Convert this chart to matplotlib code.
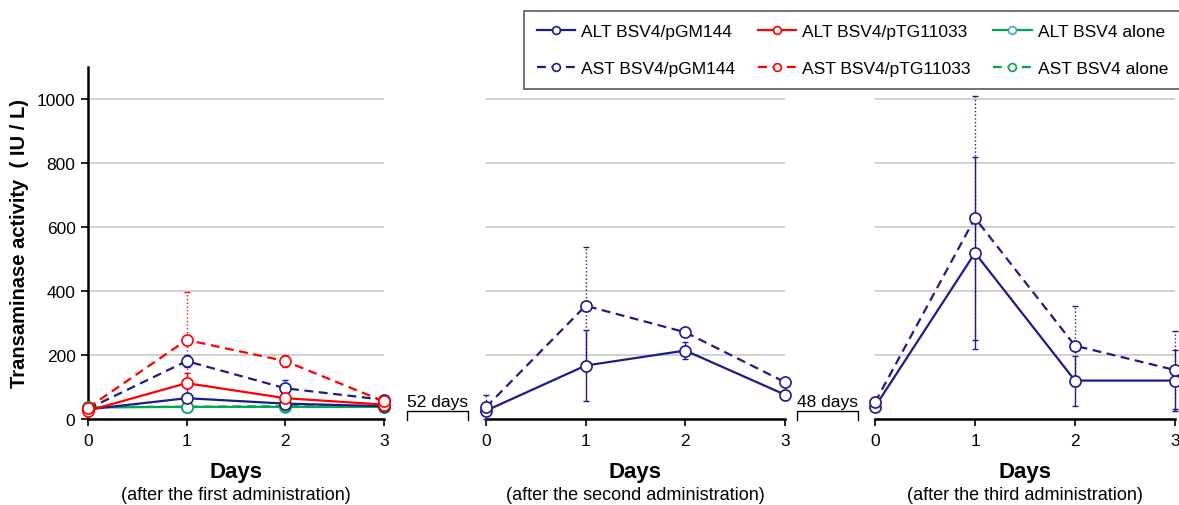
import matplotlib
matplotlib.use("Agg")
import matplotlib.pyplot as plt
from matplotlib.lines import Line2D

plt.rcParams['font.family'] = ['Liberation Sans', 'DejaVu Sans']

days = [0, 1, 2, 3]

# Panel 1 (after first administration)
p1_alt_pgm = [30, 65, 48, 40]
p1_alt_pgm_err = [3, 10, 5, 5]
p1_ast_pgm = [32, 181, 96, 60]
p1_ast_pgm_err = [5, 20, 25, 8]
p1_alt_ptg = [26, 112, 65, 45]
p1_alt_ptg_err = [5, 33, 8, 5]
p1_ast_ptg = [35, 247, 181, 55]
p1_ast_ptg_err = [5, 150, 18, 8]
p1_alt_alone = [36, 38, 38, 38]
p1_alt_alone_err = [3, 3, 3, 3]
p1_ast_alone = [38, 38, 40, 38]
p1_ast_alone_err = [3, 3, 3, 3]

# Panel 2 (after second administration)
p2_alt_pgm = [26, 167, 214, 76]
p2_alt_pgm_err = [5, 110, 28, 5]
p2_ast_pgm = [37, 354, 271, 115]
p2_ast_pgm_err = [38, 183, 10, 8]

# Panel 3 (after third administration)
p3_alt_pgm = [38, 519, 120, 120]
p3_alt_pgm_err = [5, 300, 78, 95]
p3_ast_pgm = [52, 628, 229, 153]
p3_ast_pgm_err = [5, 380, 125, 123]

yticks = [0, 200, 400, 600, 800, 1000]
subtitles = ["(after the first administration)",
             "(after the second administration)",
             "(after the third administration)"]
gaps = ["52 days", "48 days"]

NAVY = '#1c1c8a'
RED = '#ff0000'
GREEN = '#00a651'
TEAL = '#4aa3c0'

W, H = 1179, 506
fig = plt.figure(figsize=(W / 100, H / 100), dpi=100)

def ax_rect(x0, x1, ytop=68, ybot=420):
    return [x0 / W, (H - ybot) / H, (x1 - x0) / W, (ybot - ytop) / H]

axes = [fig.add_axes(ax_rect(88, 384)),
        fig.add_axes(ax_rect(486, 785)),
        fig.add_axes(ax_rect(875, 1175))]

def series(ax, y, err, color, dashed, mec=None, label=None):
    ls = '--' if dashed else '-'
    eb = ax.errorbar(days, y, yerr=err, fmt='none', ecolor=color, elinewidth=1.0,
                     capsize=2.5, capthick=1.0, zorder=3, clip_on=False)
    if dashed:
        for lc in eb[2]:
            lc.set_linestyle(':')
    for c in eb[1]:
        c.set_clip_on(False)
    for lc in eb[2]:
        lc.set_clip_on(False)
    ln, = ax.plot(days, y, linestyle=ls, color=color, lw=1.6, marker='o',
                  markersize=8, markerfacecolor='white',
                  markeredgecolor=mec or color, markeredgewidth=1.2,
                  zorder=4, clip_on=False, label=label)
    if dashed:
        ln.set_dashes((4, 2.5))
    return ln

h = {}
ax = axes[0]
h['a'] = series(ax, p1_alt_alone, p1_alt_alone_err, GREEN, False, TEAL, 'ALT BSV4 alone')
h['b'] = series(ax, p1_ast_alone, p1_ast_alone_err, GREEN, True, None, 'AST BSV4 alone')
h['c'] = series(ax, p1_alt_pgm, p1_alt_pgm_err, NAVY, False, None, 'ALT BSV4/pGM144')
h['d'] = series(ax, p1_ast_pgm, p1_ast_pgm_err, NAVY, True, None, 'AST BSV4/pGM144')
h['e'] = series(ax, p1_alt_ptg, p1_alt_ptg_err, RED, False, None, 'ALT BSV4/pTG11033')
h['f'] = series(ax, p1_ast_ptg, p1_ast_ptg_err, RED, True, None, 'AST BSV4/pTG11033')

series(axes[1], p2_alt_pgm, p2_alt_pgm_err, NAVY, False)
series(axes[1], p2_ast_pgm, p2_ast_pgm_err, NAVY, True)
series(axes[2], p3_alt_pgm, p3_alt_pgm_err, NAVY, False)
series(axes[2], p3_ast_pgm, p3_ast_pgm_err, NAVY, True)

for i, ax in enumerate(axes):
    ax.set_xlim(0, 3)
    ax.set_ylim(0, 1100)
    ax.set_xticks(days)
    ax.set_xticklabels([str(d) for d in days], fontsize=12.5)
    ax.set_yticks(yticks)
    for s in ['top', 'right']:
        ax.spines[s].set_visible(False)
    ax.spines['bottom'].set_linewidth(1.8)
    ax.spines['left'].set_linewidth(1.8)
    ax.tick_params(axis='x', direction='out', length=5, width=1.2, pad=5)
    ax.tick_params(axis='y', direction='out', length=5, width=1.2, pad=4, labelsize=12.5)
    ax.yaxis.grid(True, color='#c8c8c8', lw=1.2)
    ax.set_axisbelow(True)
    ax.set_facecolor('none')
    if i > 0:
        ax.spines['left'].set_visible(False)
        ax.tick_params(axis='y', left=False, labelleft=False)

centers = [236, 635, 1025]
for cx, sub in zip(centers, subtitles):
    fig.text(cx / W, (H - 473) / H, "Days", ha='center', va='center',
             fontsize=16, fontweight='bold')
    fig.text(cx / W, (H - 496) / H, sub, ha='center', va='center', fontsize=13)

axes[0].set_ylabel("Transaminase activity  ( IU / L)", fontsize=14.5,
                   fontweight='bold', labelpad=6)

# gap brackets
for (x0, x1), txt in zip([(407, 468), (797, 858)], gaps):
    yb, yt = (H - 421) / H, (H - 412) / H
    fig.add_artist(Line2D([x0 / W, x0 / W, x1 / W, x1 / W], [yb, yt, yt, yb],
                          color='black', lw=1.0, transform=fig.transFigure))
    fig.text((x0 + x1) / 2 / W, (H - 403) / H, txt, ha='center', va='center',
             fontsize=12.5)

order = ['c', 'd', 'e', 'f', 'a', 'b']
leg = fig.legend([h[k] for k in order], [h[k].get_label() for k in order],
                 loc='upper left', bbox_to_anchor=(524 / W, 1 - 12 / H),
                 borderaxespad=0, ncol=3, fontsize=12.5, frameon=True,
                 fancybox=False, edgecolor='#333333', markerscale=0.7,
                 handlelength=2.2, handletextpad=0.35, columnspacing=1.3,
                 borderpad=0.75, labelspacing=1.25)
leg.get_frame().set_linewidth(1.2)

fig.savefig('out.png', dpi=100)
